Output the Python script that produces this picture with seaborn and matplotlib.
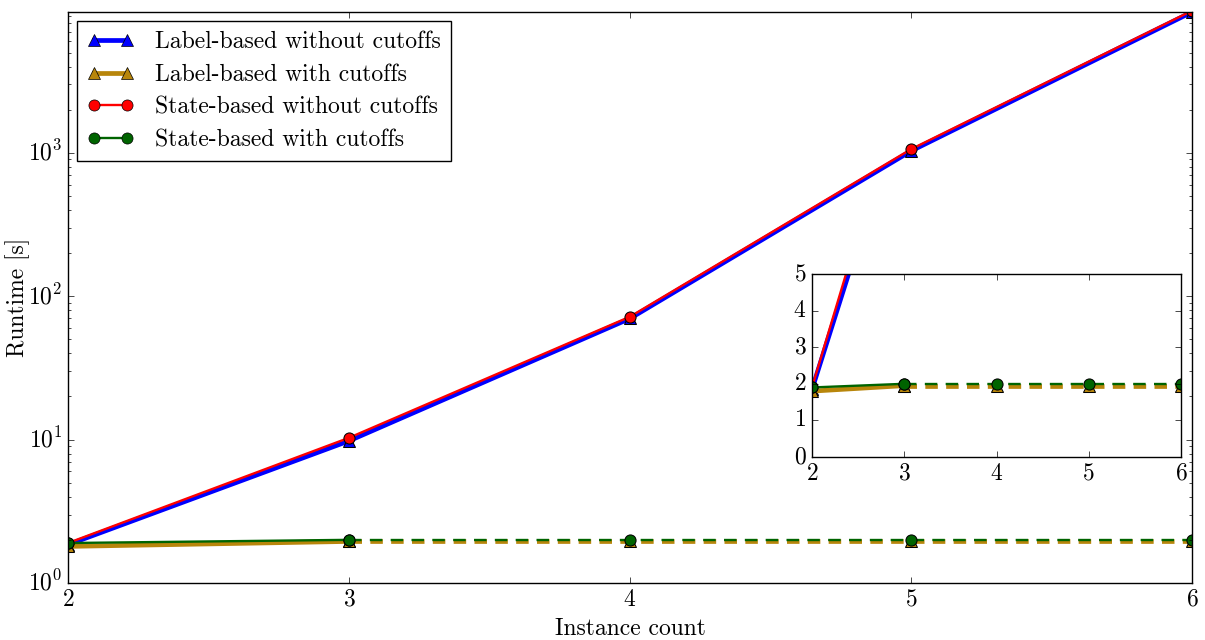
import matplotlib
matplotlib.use('Agg')
import matplotlib.pyplot as plt
import seaborn as sns
from matplotlib.lines import Line2D

# ---- data ----
instances = [2, 3, 4, 5, 6]
label_nocut = [1.85, 9.8, 70.0, 1030.0, 9600.0]
state_nocut = [1.9, 10.3, 72.0, 1060.0, 9800.0]

# measured part of the cutoff runs (solid) ...
cut_measured_x = [2, 3]
label_cut = [1.8, 1.95]
state_cut = [1.9, 2.0]
# ... and the flat extrapolation (dashed)
cut_extra_x = [3, 4, 5, 6]
label_cut_extra = [1.95, 1.95, 1.95, 1.95]
state_cut_extra = [2.0, 2.0, 2.0, 2.0]

plt.style.use('classic')
plt.rcParams['font.family'] = 'serif'
plt.rcParams['font.serif'] = ['cmr10', 'DejaVu Serif']
plt.rcParams['mathtext.fontset'] = 'cm'
plt.rcParams['axes.formatter.use_mathtext'] = True
plt.rcParams['font.size'] = 17
plt.rcParams['lines.dashed_pattern'] = [9, 6]

C_BLUE = '#0000ff'
C_GOLD = '#b8860b'
C_RED = '#ff0000'
C_GREEN = '#006400'
MS = 8

fig = plt.figure(figsize=(12.05, 6.4), dpi=100, facecolor='white')
ax = fig.add_axes([68/1205, (640-583)/640, (1192-68)/1205, (583-12)/640])


def draw(ax, ms):
    sns.lineplot(x=instances, y=label_nocut, ax=ax, color=C_BLUE, lw=3.4,
                 marker='^', markersize=ms, markeredgecolor='k', sort=False)
    sns.lineplot(x=cut_measured_x, y=label_cut, ax=ax, color=C_GOLD, lw=3.4,
                 marker='^', markersize=ms, markeredgecolor='k', sort=False)
    sns.lineplot(x=cut_extra_x, y=label_cut_extra, ax=ax, color=C_GOLD, lw=3.4,
                 ls='--', marker='^', markersize=ms, markeredgecolor='k', sort=False)
    sns.lineplot(x=instances, y=state_nocut, ax=ax, color=C_RED, lw=1.7,
                 marker='o', markersize=ms, markeredgecolor='k', sort=False)
    sns.lineplot(x=cut_measured_x, y=state_cut, ax=ax, color=C_GREEN, lw=1.7,
                 marker='o', markersize=ms, markeredgecolor='k', sort=False)
    sns.lineplot(x=cut_extra_x, y=state_cut_extra, ax=ax, color=C_GREEN, lw=1.7,
                 ls='--', marker='o', markersize=ms, markeredgecolor='k', sort=False)


draw(ax, MS)
ax.set_yscale('log')
ax.set_xlim(2, 6)
ax.set_ylim(1, 9600)
ax.set_xticks(instances)
ax.set_xlabel('Instance count')
ax.set_ylabel('Runtime [s]')
ax.yaxis.set_label_coords(-0.034, 0.5)

handles = [
    Line2D([], [], color=C_BLUE, lw=3.4, marker='^', ms=MS, mec='k'),
    Line2D([], [], color=C_GOLD, lw=3.4, marker='^', ms=MS, mec='k'),
    Line2D([], [], color=C_RED, lw=1.7, marker='o', ms=MS, mec='k'),
    Line2D([], [], color=C_GREEN, lw=1.7, marker='o', ms=MS, mec='k'),
]
labels = ['Label-based without cutoffs', 'Label-based with cutoffs',
          'State-based without cutoffs', 'State-based with cutoffs']
ax.legend(handles, labels, loc='upper left', numpoints=2, fontsize=17,
          borderaxespad=0.4, handletextpad=0.9, labelspacing=0.45)

# inset in linear scale
ins = fig.add_axes([812/1205, (640-457)/640, (1181-812)/1205, (457-274)/640])
draw(ins, MS)
ins.set_xlim(2, 6)
ins.set_ylim(0, 5)
ins.set_xticks(instances)
ins.set_yticks([0, 1, 2, 3, 4, 5])

fig.savefig('out.png', dpi=100, facecolor='white')
